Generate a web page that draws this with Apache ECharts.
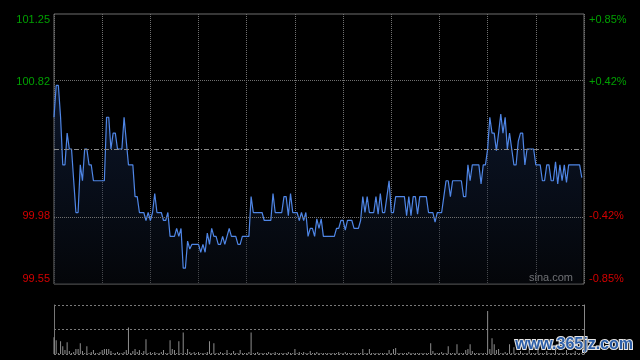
<!DOCTYPE html>
<html><head><meta charset="utf-8">
<script src="https://cdn.jsdelivr.net/npm/echarts@6/dist/echarts.min.js"></script>
<style>html,body{margin:0;padding:0;background:#000;}#c{width:640px;height:360px;}</style>
</head><body><div id="c"></div>
<script>
// ---- data ----
const prevClose = 100.40;
const priceMin = 99.55;
const priceMax = 101.25;
const leftTicks = [99.55, 99.98, 100.82, 101.25];
const rightLabels = ['-0.85%', '-0.42%', '+0.42%', '+0.85%'];
const gridLevels = [99.975, 100.825];
const minutesMax = 242;
const minuteStep = 22;
const prices = [
100.60,100.80,100.80,100.60,100.30,100.30,100.50,100.40,100.40,100.20,100.00,100.00,100.30,100.20,100.40,100.40,100.30,100.30,100.20,100.20,100.20,100.20,
100.20,100.20,100.60,100.60,100.40,100.50,100.50,100.40,100.40,100.40,100.60,100.45,100.30,100.30,100.30,100.10,100.10,100.00,100.00,100.00,99.95,100.00,
99.95,100.00,100.12,100.00,100.00,100.00,99.95,99.95,100.00,99.85,99.85,99.85,99.90,99.85,99.90,99.65,99.65,99.82,99.77,99.80,99.80,99.80,
99.80,99.75,99.80,99.75,99.87,99.80,99.90,99.85,99.85,99.80,99.80,99.85,99.80,99.85,99.90,99.85,99.85,99.85,99.80,99.80,99.85,99.85,
99.85,99.85,100.10,100.00,100.00,100.00,100.00,100.00,99.95,99.95,99.95,99.95,100.12,100.00,100.00,100.00,100.00,100.10,100.10,99.98,100.12,100.00,
100.00,100.00,99.95,100.00,99.95,100.00,99.85,99.90,99.90,99.85,99.96,99.90,99.96,99.85,99.85,99.85,99.85,99.85,99.85,99.90,99.90,99.95,
99.95,99.89,99.95,99.95,99.95,99.90,99.90,99.90,99.95,100.10,100.00,100.10,100.00,100.00,100.00,100.10,99.99,100.12,100.00,100.00,100.10,100.20,
100.00,100.00,100.10,100.10,100.10,100.10,100.10,99.98,100.10,99.98,100.10,100.10,99.99,100.10,100.10,100.10,100.10,100.00,100.00,100.00,99.94,100.00,
100.00,100.00,100.10,100.20,100.20,100.10,100.20,100.20,100.20,100.20,100.20,100.10,100.10,100.30,100.20,100.30,100.30,100.30,100.30,100.18,100.30,100.30,
100.40,100.60,100.50,100.50,100.39,100.50,100.62,100.50,100.60,100.40,100.50,100.40,100.30,100.30,100.45,100.50,100.50,100.30,100.40,100.40,100.40,100.40,
100.30,100.30,100.30,100.20,100.20,100.30,100.30,100.20,100.20,100.32,100.18,100.30,100.20,100.30,100.19,100.30,100.30,100.30,100.30,100.30,100.30,100.22
];
const volumes = [
17,14,1,13,8,4,12,3,1,2,5,5,11,3,1,8,1,2,4,1,1,2,
4,5,5,5,3,1,1,2,1,1,2,4,27,1,3,5,2,4,1,3,15,1,
2,1,2,1,1,2,4,1,1,14,5,4,1,13,1,22,1,5,2,1,2,1,
2,1,1,1,2,13,1,11,1,1,2,1,1,4,1,1,3,1,1,4,1,1,
1,2,22,1,1,2,1,1,1,1,2,1,1,2,1,1,1,1,1,2,1,1,
5,1,2,1,2,1,1,3,1,1,2,1,1,1,1,1,1,1,1,1,2,1,
1,2,1,1,1,1,1,1,1,5,1,1,5,1,1,1,1,1,1,1,1,4,
1,5,6,1,1,1,1,1,2,1,1,1,1,1,1,1,1,1,11,3,1,1,
1,2,1,1,8,1,1,1,10,1,1,1,4,5,10,3,1,1,1,1,1,1,
44,5,16,10,4,5,1,1,2,1,10,1,7,1,1,3,1,1,1,4,1,1,
1,6,1,1,1,3,1,1,1,5,1,1,1,1,4,1,1,1,3,1,1,1
];
const volMax = 50;
const sourceText = 'sina.com';
const watermarkText = 'www.365jz.com';

// ---- chart ----
const lineData = prices.map((p, i) => [i, p]);
const volData = volumes.map((v, i) => [i, v]);
const font = 'Liberation Sans, Arial, sans-serif';
const dotted = [1, 1];

const chart = echarts.init(document.getElementById('c'), null, {renderer: 'canvas'});
chart.setOption({
  backgroundColor: '#000',
  animation: false,
  grid: [
    {left: 54, right: 56, top: 14, height: 270, show: true, borderColor: '#6e6e6e', borderWidth: 1, backgroundColor: 'transparent'},
    {left: 54, right: 56, top: 305, height: 49}
  ],
  xAxis: [
    {type: 'value', gridIndex: 0, min: 0, max: minutesMax, interval: minuteStep,
     axisLine: {show: false}, axisTick: {show: false}, axisLabel: {show: false},
     splitLine: {show: true, lineStyle: {color: '#707070', type: dotted, width: 1}}},
    {type: 'value', gridIndex: 1, min: 0, max: minutesMax, interval: minuteStep,
     axisLine: {show: false}, axisTick: {show: false}, axisLabel: {show: false}, splitLine: {show: false}}
  ],
  yAxis: [
    {type: 'value', gridIndex: 0, min: priceMin, max: priceMax, position: 'left',
     axisLine: {show: false}, axisTick: {show: false}, splitLine: {show: false},
     axisLabel: {customValues: leftTicks, margin: 4, fontSize: 11, fontFamily: font,
       verticalAlignMinLabel: 'bottom', verticalAlignMaxLabel: 'top',
       formatter: v => Number(v).toFixed(2),
       color: v => parseFloat(v) > prevClose ? '#00a000' : '#d40000'}},
    {type: 'value', gridIndex: 0, min: priceMin, max: priceMax, position: 'right',
     axisLine: {show: false}, axisTick: {show: false}, splitLine: {show: false},
     axisLabel: {customValues: leftTicks, margin: 5, fontSize: 11, fontFamily: font,
       verticalAlignMinLabel: 'bottom', verticalAlignMaxLabel: 'top',
       formatter: v => {
         let best = 0;
         leftTicks.forEach((t, i) => { if (Math.abs(t - v) < Math.abs(leftTicks[best] - v)) best = i; });
         return rightLabels[best];
       },
       color: v => parseFloat(v) > prevClose ? '#00a000' : '#d40000'}},
    {type: 'value', gridIndex: 1, min: 0, max: volMax, interval: volMax / 2, position: 'left',
     axisLine: {show: true, lineStyle: {color: '#777'}}, axisTick: {show: false}, axisLabel: {show: false},
     splitLine: {show: true, lineStyle: {color: '#7a7a7a', type: [2, 2], width: 1}}},
    {type: 'value', gridIndex: 1, min: 0, max: volMax, position: 'right',
     axisLine: {show: true, lineStyle: {color: '#888'}}, axisTick: {show: false}, axisLabel: {show: false},
     splitLine: {show: false}}
  ],
  series: [
    {type: 'line', xAxisIndex: 0, yAxisIndex: 0, data: lineData, symbol: 'none', silent: true,
     lineStyle: {color: '#4f86e6', width: 1.2},
     areaStyle: {color: new echarts.graphic.LinearGradient(0, 0, 0, 1, [
       {offset: 0, color: 'rgba(30,55,105,0.55)'}, {offset: 1, color: 'rgba(10,14,22,0.6)'}]), origin: 'start'},
     markLine: {silent: true, symbol: 'none', label: {show: false},
       data: [
         ...gridLevels.map(l => ({yAxis: l, lineStyle: {color: '#707070', type: dotted, width: 1}})),
         {yAxis: prevClose, lineStyle: {color: '#8a8a8a', type: [5, 2, 1, 2], width: 1}}
       ]}},
    {type: 'bar', xAxisIndex: 1, yAxisIndex: 2, data: volData, barWidth: 1, silent: true,
     itemStyle: {color: '#8e8e8e'}}
  ],
  graphic: [
    {type: 'text', right: 67, top: 272, silent: true,
     style: {text: sourceText, fill: '#b4b4b4', font: '11px ' + font}},
    {type: 'text', right: 6, top: 336, silent: true,
     style: {text: watermarkText, fill: '#2c5ea8', stroke: '#e6e6e6', lineWidth: 2,
       font: 'bold 16px ' + font}}
  ]
});
</script></body></html>
